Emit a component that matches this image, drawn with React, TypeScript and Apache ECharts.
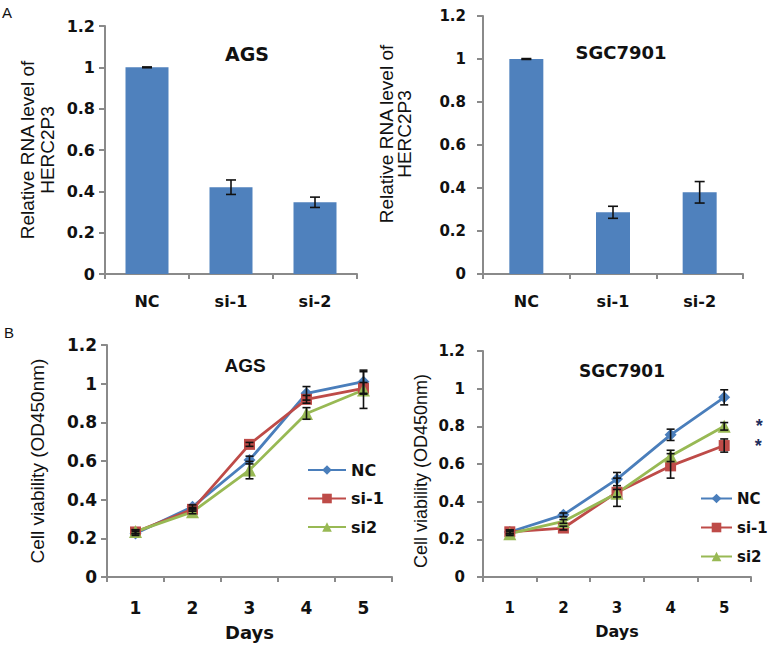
import React, { useEffect, useRef } from "react";
import * as echarts from "echarts";

// ---- Data ----
const rnaCategories = ["NC", "si-1", "si-2"];
const agsRna = [1.0, 0.42, 0.347];
const agsRnaErr = [0.002, 0.035, 0.025];
const sgcRna = [1.0, 0.287, 0.38];
const sgcRnaErr = [0.002, 0.028, 0.05];

const days = ["1", "2", "3", "4", "5"];
const agsNC = [0.225, 0.363, 0.605, 0.95, 1.01];
const agsNCErr = [0.01, 0.01, 0.02, 0.035, 0.06];
const agsSi1 = [0.233, 0.35, 0.686, 0.919, 0.976];
const agsSi1Err = [0.01, 0.01, 0.01, 0.02, 0.03];
const agsSi2 = [0.235, 0.337, 0.553, 0.846, 0.967];
const agsSi2Err = [0.01, 0.01, 0.045, 0.03, 0.095];

const sgcNC = [0.239, 0.33, 0.52, 0.755, 0.954];
const sgcNCErr = [0.01, 0.01, 0.035, 0.03, 0.04];
const sgcSi1 = [0.24, 0.26, 0.45, 0.59, 0.698];
const sgcSi1Err = [0.01, 0.01, 0.075, 0.065, 0.035];
const sgcSi2 = [0.23, 0.295, 0.445, 0.643, 0.8];
const sgcSi2Err = [0.01, 0.01, 0.02, 0.03, 0.02];

const legendNames = ["NC", "si-1", "si2"];
const yTicks = { min: 0, max: 1.2, interval: 0.2 };

const BLUE = "#4a7ebb";
const RED = "#be4b48";
const GREEN = "#98b954";
const BAR = "#4f81bd";
const AXIS = "#8a8a8a";
const TXT = "#111";

function errData(vals: number[], errs: number[]) {
  return vals.map((v, i) => [i, v, errs[i]]);
}

function errSeries(name: string, xi: number, data: number[][], cap: number) {
  return {
    type: "custom",
    name,
    xAxisIndex: xi,
    yAxisIndex: xi,
    z: 5,
    encode: { x: 0, y: 1 },
    data,
    renderItem: (params: any, api: any) => {
      const x = api.value(0);
      const y = api.value(1);
      const e = api.value(2);
      const top = api.coord([x, y + e]);
      const bot = api.coord([x, y - e]);
      const st = { stroke: "#111", lineWidth: 1.6 };
      return {
        type: "group",
        children: [
          { type: "line", shape: { x1: top[0], y1: top[1], x2: bot[0], y2: bot[1] }, style: st },
          { type: "line", shape: { x1: top[0] - cap, y1: top[1], x2: top[0] + cap, y2: top[1] }, style: st },
          { type: "line", shape: { x1: bot[0] - cap, y1: bot[1], x2: bot[0] + cap, y2: bot[1] }, style: st },
        ],
      };
    },
  };
}

function xAxis(gi: number, cats: string[], size: number, margin: number, name?: string, nameSize?: number, nameGap?: number) {
  return {
    type: "category",
    gridIndex: gi,
    data: cats,
    axisLine: { show: true, lineStyle: { color: AXIS, width: 2 } },
    axisTick: { show: true, length: 5, alignWithLabel: false, lineStyle: { color: AXIS, width: 2 } },
    axisLabel: { fontFamily: "DejaVu Sans", fontWeight: "bold", fontSize: size, color: TXT, margin },
    name: name || "",
    nameLocation: "middle",
    nameGap: nameGap || 0,
    nameTextStyle: { fontFamily: "DejaVu Sans", fontWeight: "bold", fontSize: nameSize || 16, color: TXT },
  };
}

function yAxis(gi: number, size: number, margin: number, name: string, nameSize: number, nameGap: number, lineHeight: number, padding: number[]) {
  return {
    type: "value",
    gridIndex: gi,
    ...yTicks,
    axisLine: { show: true, lineStyle: { color: AXIS, width: 2 } },
    axisTick: { show: true, length: 6, lineStyle: { color: AXIS, width: 2 } },
    splitLine: { show: false },
    axisLabel: { fontFamily: "DejaVu Sans", fontWeight: "bold", fontSize: size, color: TXT, margin },
    name,
    nameLocation: "middle",
    nameRotate: 90,
    nameGap,
    nameTextStyle: { fontFamily: "Liberation Sans", fontSize: nameSize, color: TXT, lineHeight, padding },
  };
}

function lineSeries(name: string, xi: number, vals: number[], color: string, symbol: string, size: number, star?: boolean) {
  const data = vals.map((v, i) =>
    star && i === vals.length - 1
      ? {
          value: v,
          label: {
            show: true,
            formatter: "*",
            position: "right",
            distance: 25,
            fontFamily: "Liberation Sans",
            fontWeight: "bold",
            fontSize: 18,
            color: "#1f2f5f",
          },
        }
      : v
  );
  return {
    type: "line",
    name,
    xAxisIndex: xi,
    yAxisIndex: xi,
    data,
    symbol,
    symbolSize: size,
    showSymbol: true,
    lineStyle: { color, width: 2.8 },
    itemStyle: { color },
    z: 3,
  };
}

function titleText(text: string, x: number, y: number, size: number, font: string) {
  return {
    type: "text",
    x,
    y,
    style: {
      text,
      fontFamily: font,
      fontWeight: "bold",
      fontSize: size,
      fill: TXT,
      align: "center",
      verticalAlign: "middle",
      textAlign: "center",
      textVerticalAlign: "middle",
    },
  };
}

export default function App() {
  const ref = useRef<HTMLDivElement>(null);
  useEffect(() => {
    if (!ref.current) return;
    const chart = echarts.init(ref.current, undefined, { renderer: "svg" });
    const option: any = {
      animation: false,
      backgroundColor: "#fff",
      grid: [
        { left: 105, top: 26, width: 252, height: 248, outerBoundsMode: "none" },
        { left: 483, top: 16, width: 260, height: 258, outerBoundsMode: "none" },
        { left: 107, top: 345, width: 285, height: 232, outerBoundsMode: "none" },
        { left: 483, top: 351, width: 268, height: 226, outerBoundsMode: "none" },
      ],
      xAxis: [
        xAxis(0, rnaCategories, 16, 19),
        xAxis(1, rnaCategories, 16, 19),
        xAxis(2, days, 17, 22, "Days", 18, 46),
        xAxis(3, days, 15, 23, "Days", 16, 46),
      ],
      yAxis: [
        yAxis(0, 16, 10, "Relative RNA level of\nHERC2P3", 19, 48, 20, [0, 0, 0, 0]),
        yAxis(1, 15, 17, "Relative RNA level of\nHERC2P3", 19, 70, 18, [0, 0, 0, 22]),
        yAxis(2, 17, 10, "Cell viability (OD450nm)", 19, 60, 20, [0, 0, 0, 0]),
        yAxis(3, 15, 18, "Cell viability (OD450nm)", 18, 53, 18, [0, 14, 0, 0]),
      ],
      legend: [
        {
          data: legendNames,
          orient: "vertical",
          left: 302,
          top: 457,
          itemWidth: 38,
          itemHeight: 12,
          itemGap: 12.5,
          textStyle: { fontFamily: "DejaVu Sans", fontWeight: "bold", fontSize: 16, color: TXT, lineHeight: 16 },
          selectedMode: false,
        },
        {
          data: legendNames,
          orient: "vertical",
          left: 695,
          top: 486,
          itemWidth: 31,
          itemHeight: 12,
          itemGap: 14,
          textStyle: { fontFamily: "DejaVu Sans", fontWeight: "bold", fontSize: 15, color: TXT, lineHeight: 15 },
          selectedMode: false,
        },
      ],
      graphic: [
        {
          type: "text",
          left: 2,
          top: 5,
          style: { text: "A", fontFamily: "Liberation Sans", fontSize: 15, fill: TXT },
        },
        {
          type: "text",
          left: 4,
          top: 325,
          style: { text: "B", fontFamily: "Liberation Sans", fontSize: 15, fill: TXT },
        },
        titleText("AGS", 247, 54, 19, "DejaVu Sans"),
        titleText("SGC7901", 621, 52, 18, "DejaVu Sans"),
        titleText("AGS", 245, 365, 19, "Liberation Sans"),
        titleText("SGC7901", 622, 371, 17, "DejaVu Sans"),
      ],
      series: [
        {
          type: "bar",
          name: "AGS RNA",
          xAxisIndex: 0,
          yAxisIndex: 0,
          data: agsRna,
          barWidth: 43,
          itemStyle: { color: BAR },
        },
        errSeries("AGS RNA err", 0, errData(agsRna, agsRnaErr), 5),
        {
          type: "bar",
          name: "SGC7901 RNA",
          xAxisIndex: 1,
          yAxisIndex: 1,
          data: sgcRna,
          barWidth: 34,
          itemStyle: { color: BAR },
        },
        errSeries("SGC7901 RNA err", 1, errData(sgcRna, sgcRnaErr), 5),
        lineSeries("NC", 2, agsNC, BLUE, "diamond", 12),
        lineSeries("si-1", 2, agsSi1, RED, "rect", 11),
        lineSeries("si2", 2, agsSi2, GREEN, "triangle", 13),
        errSeries("AGS NC err", 2, errData(agsNC, agsNCErr), 4),
        errSeries("AGS si-1 err", 2, errData(agsSi1, agsSi1Err), 4),
        errSeries("AGS si2 err", 2, errData(agsSi2, agsSi2Err), 4),
        lineSeries("NC", 3, sgcNC, BLUE, "diamond", 12),
        lineSeries("si-1", 3, sgcSi1, RED, "rect", 11, true),
        lineSeries("si2", 3, sgcSi2, GREEN, "triangle", 13, true),
        errSeries("SGC NC err", 3, errData(sgcNC, sgcNCErr), 4),
        errSeries("SGC si-1 err", 3, errData(sgcSi1, sgcSi1Err), 4),
        errSeries("SGC si2 err", 3, errData(sgcSi2, sgcSi2Err), 4),
      ],
    };
    chart.setOption(option);
    return () => chart.dispose();
  }, []);
  return (
    <div
      ref={ref}
      style={{ position: "absolute", left: 0, top: 0, width: 770, height: 645 }}
    />
  );
}
